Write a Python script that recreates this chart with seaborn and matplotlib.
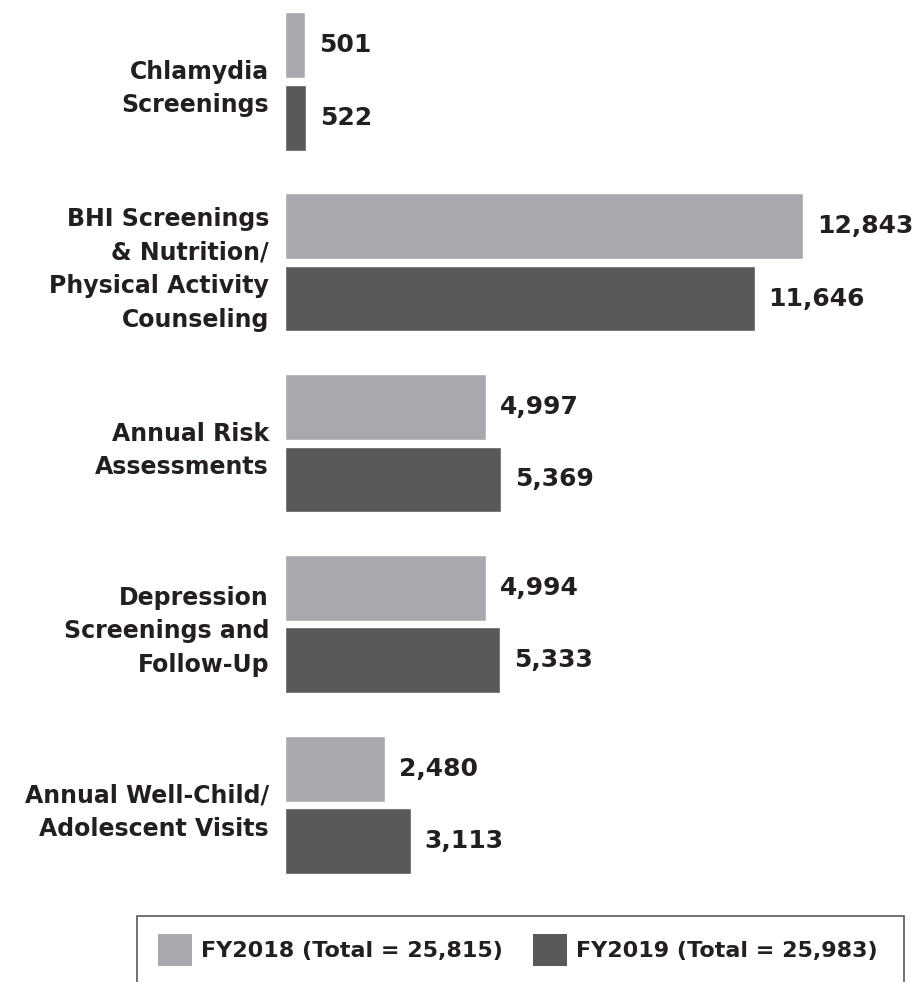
import matplotlib
matplotlib.use("Agg")
import matplotlib.pyplot as plt
from matplotlib.patches import Patch, Rectangle
import seaborn as sns
import pandas as pd

# data
categories = ["Chlamydia\nScreenings",
              "BHI Screenings\n& Nutrition/\nPhysical Activity\nCounseling",
              "Annual Risk\nAssessments",
              "Depression\nScreenings and\nFollow-Up",
              "Annual Well-Child/\nAdolescent Visits"]
fy2018 = [501, 12843, 4997, 4994, 2480]
fy2019 = [522, 11646, 5369, 5333, 3113]
series_labels = ["FY2018 (Total = 25,815)", "FY2019 (Total = 25,983)"]

df = pd.DataFrame({
    "category": categories * 2,
    "value": fy2018 + fy2019,
    "year": [series_labels[0]] * len(categories) + [series_labels[1]] * len(categories),
})

sns.set_theme(style="white")
plt.rcParams["font.family"] = ["DejaVu Sans"]
plt.rcParams["font.weight"] = "bold"

colors = {series_labels[0]: "#a7a9ac", series_labels[1]: "#58595b"}
txt_color = "#231f20"

fig = plt.figure(figsize=(9.18, 9.82), dpi=100)
ax = fig.add_axes([285 / 918, 0.088, 1 - 285 / 918, 0.912])

sns.barplot(data=df, y="category", x="value", hue="year", orient="h",
            palette=colors, width=0.8, gap=0.09, saturation=1,
            order=categories, ax=ax, legend=False)

# value labels next to the bars
for cont in ax.containers:
    ax.bar_label(cont, labels=[f"{v:,.0f}" for v in cont.datavalues],
                 padding=10, fontsize=18, fontweight="bold", color=txt_color)

ax.set_xlim(0, 15700)
ax.set_ylim(4.5, -0.45)
ax.set_xlabel("")
ax.set_ylabel("")
ax.set_xticks([])
ax.tick_params(axis="y", length=0, pad=11.5)
for lab in ax.get_yticklabels():
    lab.set_fontsize(17)
    lab.set_fontweight("bold")
    lab.set_color(txt_color)
    lab.set_linespacing(1.5)
    lab.set_horizontalalignment("right")
sns.despine(ax=ax, left=True, bottom=True)

# legend at the bottom, box runs off the figure edge
handles = [Patch(facecolor=colors[s], edgecolor="none") for s in series_labels]
leg = fig.legend(handles, series_labels, loc="center left",
                 bbox_to_anchor=(158 / 918, (982 - 950) / 982, (878 - 158) / 918, 0),
                 mode="expand", ncol=2, frameon=False,
                 borderaxespad=0, borderpad=0, prop={"weight": "bold", "size": 16},
                 handlelength=1.55, handleheight=1.9, handletextpad=0.4,
                 columnspacing=1.3)
for t in leg.get_texts():
    t.set_color(txt_color)

box = Rectangle((137 / 918, -0.02), (904 - 137) / 918, (982 - 916) / 982 + 0.02,
                transform=fig.transFigure, fill=False,
                edgecolor="#58595b", linewidth=1.2)
fig.patches.append(box)

fig.savefig("out.png", dpi=100)
